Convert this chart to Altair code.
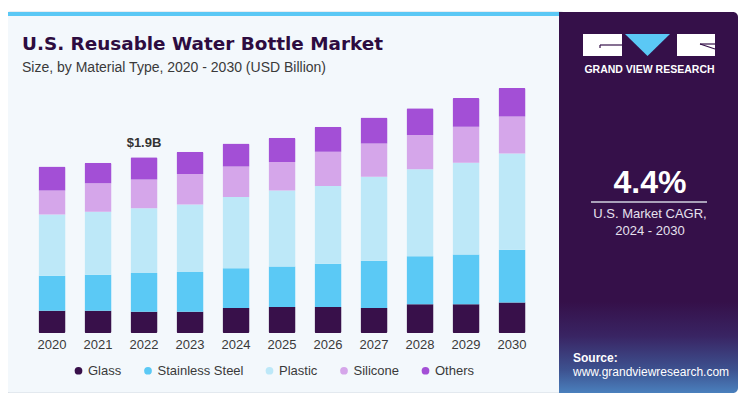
import altair as alt
import pandas as pd

# ---------------- data ----------------
years = ["2020", "2021", "2022", "2023", "2024", "2025", "2026", "2027", "2028", "2029", "2030"]
materials = ["Glass", "Stainless Steel", "Plastic", "Silicone", "Others"]
glass = [0.24, 0.24, 0.23, 0.23, 0.27, 0.28, 0.28, 0.27, 0.31, 0.31, 0.33]
steel = [0.38, 0.39, 0.42, 0.43, 0.43, 0.44, 0.47, 0.51, 0.52, 0.54, 0.57]
plastic = [0.66, 0.68, 0.70, 0.73, 0.77, 0.82, 0.84, 0.91, 0.94, 0.99, 1.04]
silicone = [0.26, 0.31, 0.31, 0.33, 0.33, 0.31, 0.37, 0.36, 0.37, 0.39, 0.40]
others = [0.26, 0.22, 0.24, 0.24, 0.25, 0.26, 0.27, 0.28, 0.29, 0.31, 0.31]
colors = ["#38104a", "#5bc9f5", "#bde8f8", "#d5a6ea", "#a34fd6"]

callout_year = ["2022"]
callout_total = [1.9]
callout_label = ["$1.9B"]

title = "U.S. Reusable Water Bottle Market"
subtitle = "Size, by Material Type, 2020 - 2030 (USD Billion)"
cagr = "4.4%"
cagr_lines = ["U.S. Market CAGR,", "2024 - 2030"]
brand = "GRAND VIEW RESEARCH"
source_lines = ["Source:", "www.grandviewresearch.com"]

# ---------------- tables ----------------
series = [glass, steel, plastic, silicone, others]
rows = []
for m_i, (m, vals) in enumerate(zip(materials, series)):
    for y, v in zip(years, vals):
        rows.append({"year": y, "material": m, "value": v, "ord": m_i})
df = pd.DataFrame(rows)
callout = pd.DataFrame({"year": callout_year, "total": callout_total, "label": callout_label})

FONT = "Liberation Sans"
# plot-area origin in page pixels (8px page margin + padding)
PAD_L, PAD_T, PAD_R, PAD_B = 21, 66, 207, 60
W, H = 506, 259
OX, OY = 8 + PAD_L, 8 + PAD_T

one = pd.DataFrame({"a": [0]})


def rect(x1, y1, x2, y2, **kw):
    return alt.Chart(one).mark_rect(**kw).encode(
        x=alt.value(x1 - OX), x2=alt.value(x2 - OX),
        y=alt.value(y1 - OY), y2=alt.value(y2 - OY))


def rule(x1, y1, x2, y2, **kw):
    return alt.Chart(one).mark_rule(**kw).encode(
        x=alt.value(x1 - OX), x2=alt.value(x2 - OX),
        y=alt.value(y1 - OY), y2=alt.value(y2 - OY))


def txt(s, x, y, **kw):
    kw.setdefault("font", FONT)
    return alt.Chart(pd.DataFrame({"t": [s]})).mark_text(baseline="alphabetic", **kw).encode(
        x=alt.value(x - OX), y=alt.value(y - OY), text="t:N")


# ---------------- decorations ----------------
card = rect(5, 12, 566, 393, color="#f3f8fc", stroke="#d3dbe2", strokeWidth=1, cornerRadius=5)
strip = rect(5, 12, 560, 16, color="#5bc8f5", cornerRadiusTopLeft=5)
panel_grad = alt.LinearGradient(
    gradient="linear",
    stops=[alt.GradientStop(color="#351049", offset=0),
           alt.GradientStop(color="#351049", offset=0.76),
           alt.GradientStop(color="#392463", offset=0.85),
           alt.GradientStop(color="#3d5290", offset=0.94),
           alt.GradientStop(color="#4a80bd", offset=1)],
    x1=0, x2=0, y1=0, y2=1)
panel = rect(559, 12, 738, 393, color=panel_grad, cornerRadius=5)
panel_left = rect(559, 12, 570, 393, color=panel_grad)

logo_l = rect(583, 34, 622, 56, color="white")
logo_r = rect(677, 34, 715, 56, color="white")
logo_l_line = rule(600, 45, 622, 45, color="#351049", strokeWidth=1.2)
logo_l_line2 = rule(600, 45, 600, 48, color="#351049", strokeWidth=1.2)
logo_r_line = rule(700, 44, 715, 44, color="#351049", strokeWidth=1.2)
logo_r_line2 = rule(700, 44, 715, 49, color="#351049", strokeWidth=1.2)
tri = alt.Chart(one).mark_point(
    shape="M -1 -0.49 L 1 -0.49 L 0 0.49 Z", size=2025, filled=True, opacity=1,
    color="#5bc8f5", strokeWidth=0).encode(x=alt.value(647.5 - OX), y=alt.value(45 - OY))

texts = [
    txt(title, 22, 50, fontSize=18.4, fontWeight="bold", color="#2d0c40", align="left",
        font="DejaVu Sans"),
    txt(subtitle, 22, 72, fontSize=14, color="#3a3a3a", align="left"),
    txt(brand, 649.5, 73, fontSize=10.5, fontWeight="bold", color="white", align="center"),
    txt(cagr, 650, 193, fontSize=32, fontWeight="bold", color="white", align="center"),
    txt(cagr_lines[0], 650, 218, fontSize=13, color="#e6e1ee", align="center"),
    txt(cagr_lines[1], 650, 235, fontSize=13, color="#e6e1ee", align="center"),
    txt(source_lines[0], 573, 362, fontSize=12, fontWeight="bold", color="white", align="left"),
    txt(source_lines[1], 573, 376, fontSize=12, color="white", align="left"),
]
cagr_rule = rule(591, 202, 707, 202, color="#a9a1b9", strokeWidth=2)

# ---------------- bars ----------------
xscale = alt.Scale(paddingInner=0.413, paddingOuter=0.2065)
yscale = alt.Scale(domain=[0, 2.8], nice=False)

bars = alt.Chart(df).mark_bar(cornerRadius=1.5).encode(
    x=alt.X("year:O", scale=xscale, sort=years,
            axis=alt.Axis(title=None, labelAngle=0, domain=False, ticks=False,
                          labelFontSize=13, labelColor="#3a3a3a", labelPadding=5,
                          labelFont=FONT, zindex=1)),
    y=alt.Y("value:Q", stack="zero", scale=yscale, axis=None),
    color=alt.Color("material:N", scale=alt.Scale(domain=materials, range=colors),
                    legend=alt.Legend(orient="none", legendX=43, legendY=290,
                                      direction="horizontal", title=None,
                                      symbolType="circle", symbolSize=60,
                                      symbolStrokeWidth=0, labelFontSize=13,
                                      labelColor="#3a3a3a", labelFont=FONT,
                                      columnPadding=19.5, labelOffset=3, zindex=1)),
    order=alt.Order("ord:Q", sort="ascending"),
)

label = alt.Chart(callout).mark_text(
    baseline="bottom", dy=-7, fontSize=13, fontWeight="bold", color="#333333", font=FONT
).encode(
    x=alt.X("year:O", scale=xscale, sort=years),
    y=alt.Y("total:Q", scale=yscale),
    text="label:N",
)

chart = alt.layer(
    card, strip, panel, panel_left,
    logo_l, logo_r, logo_l_line, logo_l_line2, logo_r_line, logo_r_line2, tri,
    cagr_rule, *texts,
    bars, label,
).properties(
    width=W, height=H,
    padding={"left": PAD_L, "top": PAD_T, "right": PAD_R, "bottom": PAD_B},
    autosize="none",
    background="white",
).configure_view(stroke=None)

chart.save("out.html", embed_options={"renderer": "svg", "actions": False})
